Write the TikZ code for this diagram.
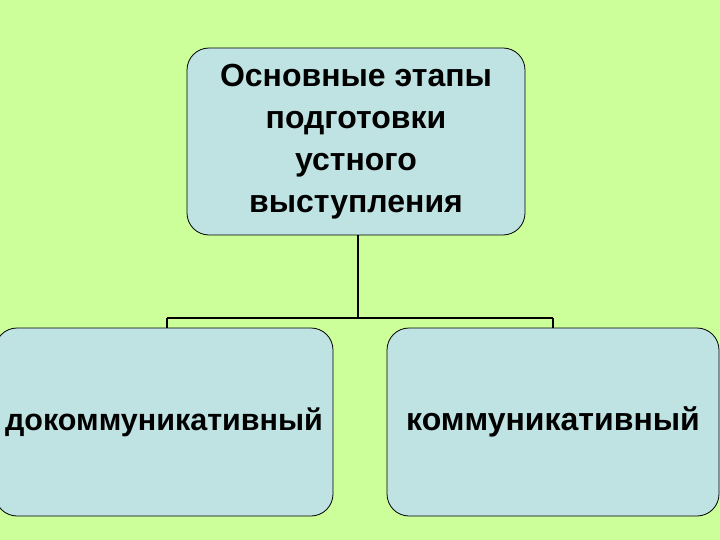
\documentclass[tikz,border=0pt]{standalone}
\usepackage{fontspec}
\setmainfont{Liberation Sans}
\definecolor{bg}{HTML}{CCFF99}
\definecolor{bx}{HTML}{BFE3E3}
\begin{document}
\begin{tikzpicture}[x=1pt,y=-1pt,
  box/.style={draw=black,fill=bx,rounded corners=22pt,line width=0.8pt,
    font=\fontsize{32}{42}\selectfont\bfseries,align=center,inner sep=0pt},
  ln/.style={line width=1.2pt}]
\fill[bg] (0,0) rectangle (720,540);
\useasboundingbox (0,0) rectangle (720,540);
\node[box,minimum width=338pt,minimum height=187pt] (top) at (356,141.5) {Основные этапы\\подготовки\\устного\\выступления};
\node[box,minimum width=338pt,minimum height=188pt,font=\fontsize{30.5}{40}\selectfont\bfseries] (l) at (164,422) {докоммуникативный};
\node[box,minimum width=332pt,minimum height=188pt] (r) at (553,422) {коммуникативный};
\coordinate (j) at (358,318);
\coordinate (jl) at (167,318);
\coordinate (jr) at (553,318);
\draw[ln] (top.south -| j) -- (j);
\draw[ln] (jl) -- (jr);
\draw[ln] (jl) -- (jl |- l.north);
\draw[ln] (jr) -- (jr |- r.north);
\end{tikzpicture}
\end{document}
